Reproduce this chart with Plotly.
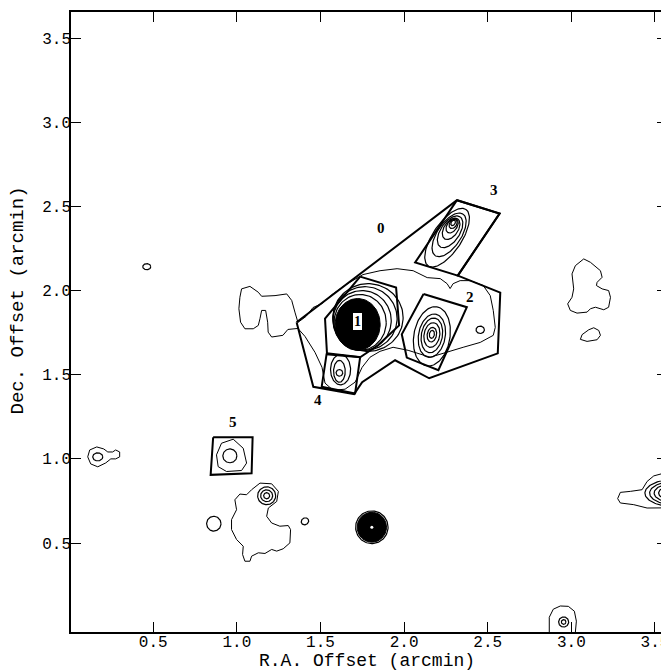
import numpy as np
import plotly.graph_objects as go

# ---------------- axis ticks ----------------
x_ticks = [0.5, 1.0, 1.5, 2.0, 2.5, 3.0, 3.5]
x_ticktext = ["0.5", "1.0", "1.5", "2.0", "2.5", "3.0", "3.5"]
y_ticks = [0.5, 1.0, 1.5, 2.0, 2.5, 3.0, 3.5]
y_ticktext = ["0.5", "1.0", "1.5", "2.0", "2.5", "3.0", "3.5"]

# ---------------- region outlines (arcmin) ----------------
region0_x = [1.357, 2.316, 2.571, 2.321, 2.575, 2.560, 2.150, 1.946, 1.749, 1.701, 1.457, 1.357]
region0_y = [1.812, 2.537, 2.457, 2.089, 1.988, 1.627, 1.479, 1.586, 1.456, 1.385, 1.428, 1.812]
region1_x = [1.737, 1.952, 1.970, 1.844, 1.737, 1.539, 1.527, 1.737]
region1_y = [2.083, 2.018, 1.793, 1.675, 1.604, 1.621, 1.834, 2.083]
box2_x = [2.116, 2.375, 2.205, 2.016, 1.986, 2.116]
box2_y = [1.980, 1.901, 1.527, 1.602, 1.740, 1.980]
box3_x = [2.316, 2.571, 2.321, 2.066, 2.316]
box3_y = [2.537, 2.457, 2.089, 2.167, 2.537]
box4_x = [1.537, 1.737, 1.707, 1.507, 1.537]
box4_y = [1.627, 1.605, 1.389, 1.428, 1.627]
box5_x = [0.858, 1.094, 1.088, 0.843, 0.858]
box5_y = [1.128, 1.128, 0.915, 0.905, 1.128]

region_labels = ["0", "2", "3", "4", "5"]
label_x = [1.862, 2.395, 2.539, 1.485, 0.976]
label_y = [2.373, 1.964, 2.598, 1.349, 1.219]
label1_x, label1_y = 1.719, 1.817

# ---------------- irregular contours (arcmin) ----------------
srcA_x = [0.108, 0.120, 0.162, 0.204, 0.228, 0.257, 0.275, 0.299, 0.299, 0.275, 0.246, 0.216, 0.168, 0.126, 0.108]
srcA_y = [1.012, 1.053, 1.071, 1.059, 1.041, 1.041, 1.053, 1.041, 1.012, 1.000, 1.000, 0.976, 0.953, 0.970, 1.012]

src5_x = [0.878, 0.908, 0.978, 1.038, 1.058, 1.028, 0.938, 0.888, 0.878]
src5_y = [1.024, 1.093, 1.117, 1.063, 0.975, 0.931, 0.925, 0.954, 1.024]

blobD_x = [1.138, 1.208, 1.248, 1.238, 1.188, 1.178, 1.208, 1.257, 1.307, 1.321, 1.317, 1.277, 1.238, 1.208,
           1.168, 1.128, 1.088, 1.078, 1.048, 1.034, 1.038, 0.998, 0.968, 0.968, 0.998, 0.988, 1.018, 1.058, 1.088, 1.138]
blobD_y = [0.856, 0.852, 0.807, 0.747, 0.708, 0.659, 0.619, 0.600, 0.604, 0.580, 0.501, 0.466, 0.452, 0.462,
           0.438, 0.442, 0.422, 0.392, 0.392, 0.432, 0.481, 0.521, 0.580, 0.639, 0.698, 0.757, 0.791, 0.787, 0.817, 0.856]

srcH_x = [2.868, 2.868, 2.892, 2.934, 2.982, 3.018, 3.030, 3.024]
srcH_y = [-0.030, 0.059, 0.107, 0.126, 0.124, 0.095, 0.036, -0.030]

srcI_x = [3.277, 3.293, 3.353, 3.423, 3.453, 3.493, 3.553, 3.653, 3.653, 3.533, 3.453, 3.373, 3.293, 3.277]
srcI_y = [0.764, 0.801, 0.807, 0.817, 0.866, 0.899, 0.915, 0.923, 0.710, 0.708, 0.708, 0.728, 0.738, 0.764]

blobJ_x = [3.074, 3.114, 3.174, 3.184, 3.154, 3.150, 3.184, 3.223, 3.234, 3.223, 3.194, 3.144, 3.114, 3.094,
           3.034, 2.994, 2.978, 3.004, 3.014, 3.004, 3.024, 3.074]
blobJ_y = [2.188, 2.168, 2.118, 2.079, 2.049, 2.030, 2.010, 2.000, 1.960, 1.901, 1.886, 1.901, 1.892, 1.872,
           1.866, 1.882, 1.921, 1.960, 2.010, 2.099, 2.148, 2.188]

ovalJ_x = [3.134, 3.164, 3.174, 3.154, 3.094, 3.054, 3.064, 3.104, 3.134]
ovalJ_y = [1.779, 1.763, 1.734, 1.708, 1.698, 1.710, 1.738, 1.767, 1.779]

arcR_x = [3.587, 3.563, 3.557, 3.569, 3.587]
arcR_y = [2.118, 2.089, 2.059, 2.030, 2.018]

bigK_x = [1.018, 1.028, 1.078, 1.128, 1.148, 1.228, 1.298, 1.328, 1.347, 1.365, 1.413, 1.455, 1.509, 1.569,
          1.653, 1.754, 1.856, 1.958, 2.054, 2.138, 2.216, 2.257, 2.275, 2.293, 2.335, 2.395, 2.473, 2.515,
          2.533, 2.545, 2.533, 2.455, 2.353, 2.257, 2.156, 2.024, 1.934, 1.856, 1.796, 1.749, 1.707, 1.647,
          1.575, 1.527, 1.509, 1.467, 1.407, 1.365, 1.305, 1.275, 1.208, 1.187, 1.184, 1.172, 1.148, 1.138,
          1.128, 1.098, 1.048, 1.022, 1.012, 1.018]
bigK_y = [1.960, 2.010, 2.025, 1.990, 1.966, 1.970, 1.980, 1.941, 1.872, 1.811, 1.846, 1.899, 1.923, 1.976,
          2.036, 2.095, 2.118, 2.130, 2.118, 2.077, 2.071, 2.041, 2.012, 2.041, 2.059, 2.059, 2.030, 1.970,
          1.882, 1.781, 1.734, 1.692, 1.663, 1.633, 1.604, 1.645, 1.663, 1.639, 1.604, 1.544, 1.456, 1.414,
          1.408, 1.450, 1.544, 1.633, 1.728, 1.775, 1.769, 1.734, 1.724, 1.753, 1.812, 1.882, 1.882, 1.833,
          1.793, 1.773, 1.773, 1.812, 1.892, 1.960]

# ---------------- elliptical contour rings: centre, semi-axes, tilt (deg) ----------------
ring_cx = [0.168, 0.461, 0.958, 1.178, 1.178, 1.178, 0.862, 1.407, 1.807, 2.954, 2.954, 2.455,
           3.62, 3.62, 3.62, 3.62, 3.62, 3.62,
           1.737, 1.749, 1.766, 1.784,
           2.166, 2.166, 2.166, 2.166, 2.166, 2.166,
           2.293, 2.293, 2.287, 2.281, 2.275, 2.269, 2.257,
           1.613, 1.613, 1.620]
ring_cy = [1.012, 2.142, 1.018, 0.781, 0.781, 0.781, 0.615, 0.629, 0.594, 0.031, 0.031, 1.767,
           0.797, 0.797, 0.797, 0.797, 0.797, 0.797,
           1.811, 1.822, 1.834, 1.840,
           1.740, 1.738, 1.736, 1.734, 1.732, 1.728,
           2.402, 2.396, 2.385, 2.367, 2.349, 2.331, 2.314,
           1.511, 1.520, 1.530]
ring_a = [0.030, 0.024, 0.042, 0.018, 0.036, 0.054, 0.043, 0.023, 0.097, 0.030, 0.014, 0.025,
          0.180, 0.152, 0.125, 0.098, 0.072, 0.046,
          0.156, 0.174, 0.192, 0.210,
          0.024, 0.044, 0.074, 0.104, 0.130, 0.178,
          0.018, 0.030, 0.048, 0.071, 0.107, 0.149, 0.202,
          0.020, 0.065, 0.090]
ring_b = [0.024, 0.018, 0.041, 0.018, 0.035, 0.053, 0.044, 0.020, 0.097, 0.030, 0.014, 0.022,
          0.082, 0.070, 0.058, 0.046, 0.034, 0.022,
          0.166, 0.178, 0.189, 0.201,
          0.015, 0.028, 0.047, 0.063, 0.080, 0.108,
          0.012, 0.021, 0.030, 0.042, 0.057, 0.071, 0.086,
          0.020, 0.035, 0.060]
ring_ang = [0, 0, 0, 0, 0, 0, 0, 30, 0, 0, 0, 0,
            0, 0, 0, 0, 0, 0,
            0, 0, 0, 0,
            80, 80, 80, 80, 80, 80,
            56, 56, 56, 56, 56, 56, 56,
            0, 90, 90]

# filled cores: centre, semi-axes
core_cx = [1.722, 1.807]
core_cy = [1.799, 0.594]
core_a = [0.135, 0.088]
core_b = [0.154, 0.089]


def ellipse(cx, cy, a, b, ang):
    t = np.linspace(0, 2 * np.pi, 121)
    th = np.radians(ang)
    x = cx + a * np.cos(t) * np.cos(th) - b * np.sin(t) * np.sin(th)
    y = cy + a * np.cos(t) * np.sin(th) + b * np.sin(t) * np.cos(th)
    return x, y


fig = go.Figure()


def add_line(x, y, width=1.0):
    fig.add_trace(go.Scatter(x=x, y=y, mode="lines", line=dict(color="black", width=width),
                             hoverinfo="skip", showlegend=False))


# thin contours
for xs, ys in [(srcA_x, srcA_y), (src5_x, src5_y), (blobD_x, blobD_y), (srcH_x, srcH_y),
               (srcI_x, srcI_y), (blobJ_x, blobJ_y), (ovalJ_x, ovalJ_y), (arcR_x, arcR_y),
               (bigK_x, bigK_y)]:
    add_line(xs, ys, 1.0)

for cx, cy, a, b, ang in zip(ring_cx, ring_cy, ring_a, ring_b, ring_ang):
    ex, ey = ellipse(cx, cy, a, b, ang)
    add_line(ex, ey, 1.2)

for cx, cy, a, b in zip(core_cx, core_cy, core_a, core_b):
    ex, ey = ellipse(cx, cy, a, b, 0)
    fig.add_trace(go.Scatter(x=ex, y=ey, mode="lines", fill="toself", fillcolor="black",
                             line=dict(color="black", width=1), hoverinfo="skip", showlegend=False))

# white centre dot of the compact source
fig.add_trace(go.Scatter(x=[core_cx[1]], y=[core_cy[1]], mode="markers",
                         marker=dict(color="white", size=3), hoverinfo="skip", showlegend=False))

# region outlines (thick)
for xs, ys in [(region0_x, region0_y), (region1_x, region1_y), (box2_x, box2_y),
               (box3_x, box3_y), (box4_x, box4_y), (box5_x, box5_y)]:
    add_line(xs, ys, 2.0)

# region labels
for t, x, y in zip(region_labels, label_x, label_y):
    fig.add_annotation(x=x, y=y, text="<b>%s</b>" % t, showarrow=False,
                       font=dict(family="Liberation Serif", size=15, color="black"))
fig.add_annotation(x=label1_x, y=label1_y, text="<b>1</b>", showarrow=False,
                   font=dict(family="Liberation Serif", size=14, color="black"),
                   bgcolor="white", bordercolor="black", borderwidth=1, borderpad=1)

mono = "Liberation Mono, Courier New, monospace"
fig.add_annotation(xref="paper", yref="paper", x=0.497, y=-0.046, text="R.A. Offset (arcmin)",
                   showarrow=False, font=dict(family=mono, size=18, color="black"),
                   xanchor="center", yanchor="middle")
fig.add_annotation(xref="paper", yref="paper", x=-0.0886, y=0.535, text="Dec. Offset (arcmin)",
                   showarrow=False, textangle=-90, font=dict(family=mono, size=19, color="black"),
                   xanchor="center", yanchor="middle")

axis_common = dict(showgrid=False, zeroline=False, showline=True, linecolor="black", linewidth=1.5,
                   mirror="ticks", ticks="inside", ticklen=10, tickwidth=1, tickcolor="black",
                   ticklabeloverflow="allow",
                   tickfont=dict(family=mono, size=16, color="black"))
fig.update_xaxes(range=[0.008, 3.572], tickvals=x_ticks, ticktext=x_ticktext,
                 ticklabelstandoff=-6, **axis_common)
fig.update_yaxes(range=[-0.0285, 3.655], tickvals=y_ticks, ticktext=y_ticktext,
                 ticklabelstandoff=-5, **axis_common)

fig.update_layout(width=661, height=663, margin=dict(l=63, r=0, t=4, b=39),
                  plot_bgcolor="white", paper_bgcolor="white", showlegend=False)

fig.write_html("out.html")
